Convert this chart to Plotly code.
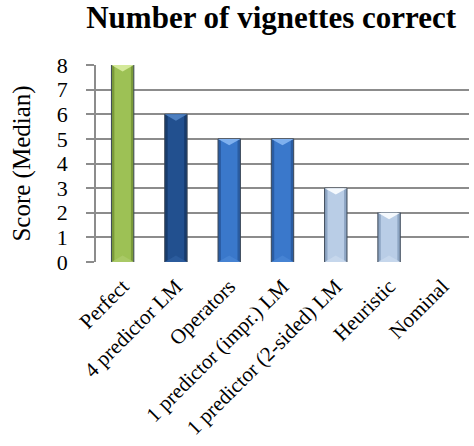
import plotly.graph_objects as go

# Median number of vignettes answered correctly per strategy
categories = ["Perfect", "4 predictor LM", "Operators", "1 predictor (impr.) LM",
              "1 predictor (2-sided) LM", "Heuristic", "Nominal"]
scores = [8, 6, 5, 5, 3, 2, 0]

# Per-bar colours: edge shade, face, light bevel, base bevel
edge_colors = ["#7a9a3a", "#173b6c", "#2a5ca2", "#2a5ca2", "#8ea6c4", "#8ea6c4", "#8ea6c4"]
face_colors = ["#9dc155", "#22508f", "#3a78cb", "#3a78cb", "#b9cde6", "#b9cde6", "#b9cde6"]
bevel_colors = ["#d4e99a", "#4d7fc0", "#7fb0ee", "#7fb0ee", "#f5f9fd", "#f5f9fd", "#f5f9fd"]
base_colors = ["#a9c966", "#2b5b9c", "#4683d3", "#4683d3", "#c6d7ec", "#c6d7ec", "#c6d7ec"]

x = list(range(len(categories)))
bar_w = 0.42
bevel_h = 0.26
outline_w = [1 if v > 0 else 0 for v in scores]

fig = go.Figure()

# Outer bar (darker rim + outline)
fig.add_trace(go.Bar(
    x=x, y=scores, width=bar_w,
    marker=dict(color=edge_colors, line=dict(color="#3a4656", width=outline_w)),
    hoverinfo="skip", showlegend=False,
))
# Inner face
fig.add_trace(go.Bar(
    x=x, y=scores, width=bar_w * 0.74,
    marker=dict(color=face_colors, line=dict(width=0)),
    hoverinfo="skip", showlegend=False,
))

# Bevel triangles at top and bottom of each bar
for i, v in enumerate(scores):
    if v <= 0:
        continue
    h = bar_w / 2
    fig.add_trace(go.Scatter(
        x=[i - h, i + h, i, i - h], y=[v, v, v - bevel_h, v],
        mode="lines", fill="toself", fillcolor=bevel_colors[i],
        line=dict(width=0), hoverinfo="skip", showlegend=False,
    ))
    fig.add_trace(go.Scatter(
        x=[i - h, i + h, i, i - h], y=[0, 0, bevel_h, 0],
        mode="lines", fill="toself", fillcolor=base_colors[i],
        line=dict(width=0), hoverinfo="skip", showlegend=False,
    ))

serif = "Liberation Serif"

fig.update_layout(
    width=474, height=446,
    margin=dict(l=96, r=5, t=65, b=184),
    paper_bgcolor="white", plot_bgcolor="white",
    barmode="overlay",
    title=dict(
        text="<b>Number of vignettes correct</b>",
        font=dict(family=serif, size=31, color="black"),
        x=0.572, xanchor="center", y=0.985, yanchor="top",
    ),
    font=dict(family=serif, color="black"),
    xaxis=dict(
        tickmode="array", tickvals=x, ticktext=categories,
        tickangle=-45, tickfont=dict(family=serif, size=21, color="black"),
        range=[-0.5, len(categories) - 0.5],
        showgrid=False, zeroline=False,
        showline=False, ticks="", ticklabelstandoff=7,
    ),
    yaxis=dict(
        range=[0, 8], dtick=1, tick0=0,
        tickfont=dict(family=serif, size=22, color="black"),
        title=dict(text="Score (Median)", font=dict(family=serif, size=25, color="black"),
                   standoff=19),
        showgrid=True, gridcolor="#8c8c8c", gridwidth=1.5,
        zeroline=False,
        showline=True, linecolor="#8c8c8c", linewidth=1.5,
        ticks="outside", ticklen=8, tickcolor="#8c8c8c", tickwidth=1.5,
        ticklabelstandoff=14,
    ),
)

fig.write_html("out.html")
